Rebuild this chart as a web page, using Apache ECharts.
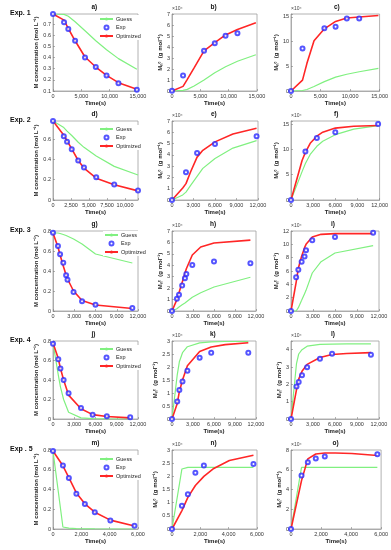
<!DOCTYPE html>
<html><head><meta charset="utf-8">
<script src="https://cdn.jsdelivr.net/npm/echarts@6/dist/echarts.min.js"></script>
<style>html,body{margin:0;padding:0;background:#fff}#c{width:391px;height:550px}</style>
</head><body><div id="c"></div>
<script>
// ---------------- DATA ----------------
// Exp. 1
const e1_tSim = [0, 1950, 2700, 3900, 5650, 7550, 9450, 11550, 14800];
const e1_tExpM = [0, 1950, 2700, 3900, 5650, 7550, 9450, 11550, 14800];
const e1_tExpMn = [0, 1950, 5650, 7550, 9450, 11550];
const a_exp = [0.79, 0.715, 0.655, 0.55, 0.40, 0.316, 0.238, 0.169, 0.112];
const a_opt = [0.79, 0.735, 0.66, 0.55, 0.405, 0.315, 0.24, 0.175, 0.115];
const a_guess = [0.79, 0.787, 0.77, 0.72, 0.64, 0.55, 0.47, 0.39, 0.295];
const b_exp = [0.03, 1.4, 3.65, 4.35, 5.03, 5.25];
const b_opt = [0, 0.42, 1.05, 2.1, 3.65, 4.4, 5.1, 5.6, 6.2];
const b_guess = [0, 0.05, 0.15, 0.45, 1.0, 1.65, 2.2, 2.7, 3.3];
const c_exp = [0, 8.6, 12.7, 13.0, 14.7, 14.7];
const c_opt = [0, 2.2, 5.6, 10.2, 12.6, 14.1, 14.8, 15.0, 15.3];
const c_guess = [0, 0.1, 0.3, 0.9, 1.9, 2.8, 3.4, 3.9, 4.6];
// Exp. 2
const e2_tSim = [0, 1500, 1950, 2600, 3500, 4300, 6000, 8500, 11800];
const e2_tExpM = [0, 1500, 1950, 2600, 3500, 4300, 6000, 8500, 11800];
const e2_tExpMn = [0, 1950, 3500, 6000, 11800];
const d_exp = [0.78, 0.63, 0.576, 0.50, 0.39, 0.322, 0.224, 0.153, 0.095];
const d_opt = [0.78, 0.64, 0.585, 0.505, 0.39, 0.315, 0.215, 0.15, 0.09];
const d_guess = [0.78, 0.715, 0.68, 0.637, 0.57, 0.52, 0.434, 0.332, 0.247];
const e_exp = [0, 2.46, 4.16, 4.97, 5.64];
const e_opt = [0, 1.07, 1.45, 2.5, 3.8, 4.4, 5.15, 5.85, 6.35];
const e_guess = [0, 0.45, 0.7, 1.3, 2.1, 2.8, 3.67, 4.6, 5.26];
const f_exp = [0, 9.57, 12.25, 13.4, 15.0];
const f_opt = [0, 7.8, 9.4, 11.2, 12.6, 13.4, 14.2, 14.55, 14.7];
const f_guess = [0, 5.6, 7.2, 9.0, 10.6, 11.6, 12.9, 14.0, 14.7];
// Exp. 3
const e3_tSim = [0, 700, 1000, 1450, 1850, 2050, 2900, 4100, 6000, 11200];
const e3_tExpM = [0, 700, 1000, 1450, 1850, 2050, 2900, 4100, 6000, 11200];
const e3_tExpMn = [0, 700, 1000, 1450, 1850, 2050, 2900, 6000, 11200];
const g_exp = [0.783, 0.65, 0.567, 0.483, 0.357, 0.313, 0.19, 0.097, 0.063, 0.03];
const g_opt = [0.78, 0.64, 0.56, 0.45, 0.36, 0.32, 0.2, 0.105, 0.06, 0.025];
const g_guess = [0.78, 0.78, 0.775, 0.765, 0.755, 0.75, 0.72, 0.67, 0.57, 0.48];
const h_exp = [0, 1.07, 1.42, 2.23, 2.86, 3.24, 4.02, 4.34, 4.17];
const h_opt = [0, 1.0, 1.6, 2.5, 3.3, 3.7, 4.9, 5.6, 5.95, 6.2];
const h_guess = [0, 0.2, 0.35, 0.55, 0.7, 0.8, 1.2, 1.6, 2.1, 2.95];
const i_exp = [0, 5.06, 6.2, 7.39, 8.18, 9.12, 10.6, 11.1, 11.75];
const i_opt = [0, 4.3, 6.4, 8.2, 9.5, 10.0, 11.1, 11.5, 11.6, 11.6];
const i_guess = [0, 0, 0.5, 1.6, 2.6, 3.1, 5.7, 7.4, 8.7, 9.8];
// Exp. 4
const e4_tSim = [0, 750, 1050, 1500, 2200, 3950, 5600, 7600, 10900];
const e4_tExpM = [0, 750, 1050, 1500, 2200, 3950, 5600, 7600, 10900];
const e4_tExpMn = [0, 750, 1050, 1500, 2200, 3950, 5600, 10900];
const j_exp = [0.773, 0.613, 0.519, 0.40, 0.264, 0.112, 0.044, 0.027, 0.017];
const j_opt = [0.78, 0.62, 0.52, 0.40, 0.245, 0.105, 0.045, 0.025, 0.012];
const j_guess = [0.78, 0.45, 0.33, 0.2, 0.07, 0.012, 0.004, 0.001, 0];
const k_exp = [0, 0.67, 1.12, 1.44, 1.86, 2.36, 2.55, 2.55];
const k_opt = [0, 0.6, 1.05, 1.5, 2.05, 2.6, 2.77, 2.86, 2.93];
const k_guess = [0, 1.7, 2.2, 2.55, 2.78, 2.93, 2.97, 2.98, 2.98];
const l_exp = [0, 1.88, 2.13, 2.52, 2.98, 3.48, 3.77, 3.71];
const l_opt = [0, 1.7, 2.3, 2.75, 3.15, 3.55, 3.72, 3.78, 3.83];
const l_guess = [0, 3.2, 3.75, 4.0, 4.2, 4.3, 4.32, 4.33, 4.33];
// Exp. 5
const e5_tSim = [0, 700, 1120, 1650, 2250, 2950, 4050, 5750];
const e5_tExpM = [0, 700, 1120, 1650, 2250, 2950, 4050, 5750];
const e5_tExpMn = [0, 700, 1120, 1650, 2250, 5750];
const m_exp = [0.79, 0.643, 0.517, 0.357, 0.252, 0.17, 0.085, 0.034];
const m_opt = [0.79, 0.64, 0.52, 0.365, 0.255, 0.17, 0.09, 0.03];
const m_guess = [0.79, 0.02, 0.008, 0.004, 0.002, 0.001, 0, 0];
const n_exp = [0, 0.88, 1.32, 2.14, 2.41, 2.47];
const n_opt = [0, 0.7, 1.2, 1.65, 2.0, 2.3, 2.6, 2.8];
const n_guess = [0, 2.28, 2.34, 2.34, 2.34, 2.34, 2.34, 2.34];
const o_exp = [0, 5.41, 6.76, 7.13, 7.33, 7.56];
const o_opt = [0, 4.9, 7.1, 7.6, 7.7, 7.7, 7.65, 7.45];
const o_guess = [0, 6.25, 6.25, 6.25, 6.25, 6.25, 6.25, 6.25];

const panelTitles = ['a)','b)','c)','d)','e)','f)','g)','h)','i)','j)','k)','l)','m)','n)','o)'];
const rowLabels = ['Exp. 1','Exp. 2','Exp. 3','Exp. 4','Exp . 5'];
// axis ranges [xMax, xInterval, yMin, yMax, yInterval]
const axisRanges = [
  [15000,5000,0.1,0.79,0.1],[15000,5000,0,7,1],[15000,5000,0,15.6,5],
  [11800,2500,0,0.78,0.2],[12000,3000,0,7,1],[12000,3000,0,15.6,5],
  [12000,3000,0,0.8,0.2],[12000,3000,0,7,1],[12000,3000,0,12,2],
  [12000,3000,0,0.8,0.2],[12000,3000,0,3,0.5],[12000,3000,0,4.5,1],
  [6000,2000,0,0.8,0.2],[6000,2000,0,3,0.5],[6000,2000,0,8,2]
];

// ---------------- BUILD ----------------
const sims = [e1_tSim,e2_tSim,e3_tSim,e4_tSim,e5_tSim];
const expM = [e1_tExpM,e2_tExpM,e3_tExpM,e4_tExpM,e5_tExpM];
const expMn = [e1_tExpMn,e2_tExpMn,e3_tExpMn,e4_tExpMn,e5_tExpMn];
const P = [
  [a_guess,a_exp,a_opt],[b_guess,b_exp,b_opt],[c_guess,c_exp,c_opt],
  [d_guess,d_exp,d_opt],[e_guess,e_exp,e_opt],[f_guess,f_exp,f_opt],
  [g_guess,g_exp,g_opt],[h_guess,h_exp,h_opt],[i_guess,i_exp,i_opt],
  [j_guess,j_exp,j_opt],[k_guess,k_exp,k_opt],[l_guess,l_exp,l_opt],
  [m_guess,m_exp,m_opt],[n_guess,n_exp,n_opt],[o_guess,o_exp,o_opt]
];

const FONT = '"Liberation Sans", Arial, Helvetica, sans-serif';
const GREEN = '#80f080', RED = '#ff2626', BLUE = '#2a2aff';
const colL = [53, 172, 291];
const colW = [[85,85,94],[85,86,94],[85,84,88],[85,84,88],[85,85,91]];
const rowT = [14, 121, 231, 341, 450];
const rowH = [77, 79, 80, 78, 79];
const legendPos = [[98,15],[98,125],[103,231],[98,345],[98,455]];

const nf = v => String(Math.round(v)).replace(/\B(?=(\d{3})+(?!\d))/g, ',');
const zip = (t, v) => t.map((x, k) => [x, v[k]]);

const grids = [], xAxes = [], yAxes = [], series = [], graphics = [], legends = [];
for (let r = 0; r < 5; r++) {
  for (let c = 0; c < 3; c++) {
    const idx = r * 3 + c;
    const [xMax, xInt, yMin, yMax, yInt] = axisRanges[idx];
    const left = colL[c], top = rowT[r], w = colW[r][c], h = rowH[r];
    grids.push({left, top, width: w, height: h, show: true, borderColor: '#a0a0a0', borderWidth: 0.8, backgroundColor: '#fff'});
    xAxes.push({
      gridIndex: idx, type: 'value', min: 0, max: xMax, interval: xInt,
      name: 'Time(s)', nameLocation: 'middle', nameGap: 8,
      nameTextStyle: {fontSize: 6, fontWeight: 'bold', color: '#222', fontFamily: FONT},
      axisLine: {show: true, lineStyle: {color: '#a0a0a0', width: 0.8}},
      axisTick: {show: true, inside: true, length: 2, lineStyle: {color: '#808080', width: 0.6}},
      axisLabel: {fontSize: 5.5, color: '#333', margin: 2, fontFamily: FONT, showMaxLabel: true,
        formatter: v => Math.abs(v / xInt - Math.round(v / xInt)) > 1e-6 ? '' : nf(v)},
      splitLine: {show: false}
    });
    const yName = c === 0 ? 'M concentration (mol L\u207B\u00B9)' : 'M\u2099\u1D9C  (g mol\u207B\u00B9)';
    yAxes.push({
      gridIndex: idx, type: 'value', min: yMin, max: yMax, interval: yInt,
      name: yName, nameLocation: 'middle', nameGap: c === 0 ? 12 : 8,
      nameTextStyle: {fontSize: 6, fontWeight: 'bold', color: '#222', fontFamily: FONT},
      axisLine: {show: true, lineStyle: {color: '#a0a0a0', width: 0.8}},
      axisTick: {show: true, inside: true, length: 2, lineStyle: {color: '#808080', width: 0.6}},
      axisLabel: {fontSize: 5.5, color: '#333', margin: 2, fontFamily: FONT,
        formatter: v => Math.abs(v / yInt - Math.round(v / yInt)) > 1e-6 ? '' : String(+v.toFixed(2))},
      splitLine: {show: false}
    });
    const [guess, exp, opt] = P[idx];
    const tExp = c === 0 ? expM[r] : expMn[r];
    series.push({name: 'Guess', type: 'line', xAxisIndex: idx, yAxisIndex: idx, data: zip(sims[r], guess),
      symbol: 'none', lineStyle: {color: GREEN, width: 1.2}, itemStyle: {color: GREEN}, z: 2, animation: false});
    series.push({name: 'Optimized', type: 'line', xAxisIndex: idx, yAxisIndex: idx, data: zip(sims[r], opt),
      symbol: 'none', lineStyle: {color: RED, width: 1.6}, itemStyle: {color: RED}, z: 3, animation: false});
    series.push({name: 'Exp', type: 'scatter', xAxisIndex: idx, yAxisIndex: idx, data: zip(tExp, exp),
      symbol: 'emptyCircle', symbolSize: 4, itemStyle: {color: BLUE, borderColor: BLUE, borderWidth: 1.1}, z: 4, animation: false});
    graphics.push({type: 'text', left: left + w / 2 - 4, top: top - 10,
      style: {text: panelTitles[idx], font: 'bold 6.5px ' + FONT, fill: '#111'}});
    if (c > 0) {
      graphics.push({type: 'text', left: left, top: top - 8,
        style: {text: '\u00D710\u2074', font: '5px ' + FONT, fill: '#444'}});
    }
  }
  graphics.push({type: 'text', left: 10, top: rowT[r] - 4,
    style: {text: rowLabels[r], font: 'bold 7px ' + FONT, fill: '#111'}});
  legends.push({
    left: legendPos[r][0], top: legendPos[r][1], orient: 'vertical',
    data: [
      {name: 'Guess'},
      {name: 'Exp', icon: 'emptyCircle', itemStyle: {color: BLUE, borderColor: BLUE, borderWidth: 1}},
      {name: 'Optimized'}
    ],
    itemWidth: 13, itemHeight: 4, itemGap: 2.5,
    padding: [1, 2, 1, 1], backgroundColor: '#fff',
    textStyle: {fontSize: 5.5, color: '#222', fontFamily: FONT, padding: [0, 0, 0, -2]},
    selectedMode: false
  });
}

const chart = echarts.init(document.getElementById('c'), null, {renderer: 'canvas'});
chart.setOption({
  animation: false,
  backgroundColor: '#fff',
  textStyle: {fontFamily: FONT},
  grid: grids, xAxis: xAxes, yAxis: yAxes, series: series,
  legend: legends, graphic: graphics
});
</script></body></html>
